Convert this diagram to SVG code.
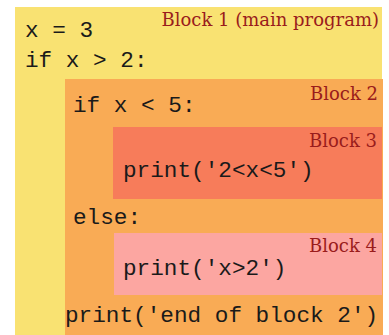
<svg xmlns="http://www.w3.org/2000/svg" width="389" height="335" viewBox="0 0 389 335">
<style>
.code{font-family:"Liberation Mono","DejaVu Sans Mono",monospace;font-size:22.7px;fill:#1a1a1a}
.lbl{font-family:"DejaVu Serif","Liberation Serif",serif;font-size:18px;fill:#9a1c1c;text-anchor:end}
</style>
<rect width="389" height="335" fill="#ffffff"/>
<g id="block1">
<rect x="15" y="7" width="367" height="328" fill="#f9e272"/>
<text class="lbl" x="379" y="26">Block 1 (main program)</text>
<text class="code" x="25" y="37">x = 3</text>
<text class="code" x="25" y="67">if x &gt; 2:</text>
</g>
<g id="block2">
<rect x="65" y="79" width="318" height="256" fill="#f9ab55"/>
<text class="lbl" x="378" y="100">Block 2</text>
<text class="code" x="73" y="112">if x &lt; 5:</text>
<text class="code" x="73" y="224">else:</text>
<text class="code" x="65" y="322">print('end of block 2')</text>
</g>
<g id="block3">
<rect x="113" y="127" width="269" height="72" fill="#f77c5a"/>
<text class="lbl" x="377" y="147">Block 3</text>
<text class="code" x="123" y="177">print('2&lt;x&lt;5')</text>
</g>
<g id="block4">
<rect x="114" y="233" width="268" height="62" fill="#fca6a1"/>
<text class="lbl" x="377" y="252">Block 4</text>
<text class="code" x="123" y="275">print('x&gt;2')</text>
</g>
<g id="connectors"/>
</svg>
